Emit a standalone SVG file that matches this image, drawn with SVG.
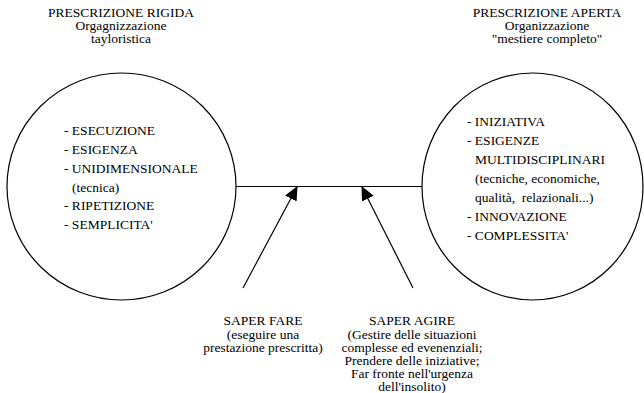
<svg xmlns="http://www.w3.org/2000/svg" width="644" height="393" viewBox="0 0 644 393">
<defs>
<style>
.t{font-family:'Liberation Serif','Times New Roman','DejaVu Serif',serif;font-size:13.5px;fill:#000}
.c{text-anchor:middle}
.shape{fill:none;stroke:#000;stroke-width:1.2}
</style>
<marker id="ah" markerWidth="14" markerHeight="13" viewBox="0 0 14 13" refX="13" refY="6.5" orient="auto" markerUnits="userSpaceOnUse">
<path d="M0,0 L14,6.5 L0,13 Z" fill="#000"/>
</marker>
</defs>
<rect width="644" height="393" fill="#fff"/>
<g id="rigida" class="t" font-family="Liberation Serif, Times New Roman, serif">
<ellipse class="shape" cx="121.5" cy="186.5" rx="114.5" ry="113.5"/>
<text class="c" x="121" y="17">PRESCRIZIONE RIGIDA</text>
<text class="c" x="121" y="30">Orgagnizzazione</text>
<text class="c" x="121" y="43">tayloristica</text>
<text x="64" y="135">- ESECUZIONE</text>
<text x="64" y="154">- ESIGENZA</text>
<text x="64" y="173">- UNIDIMENSIONALE</text>
<text x="72" y="192">(tecnica)</text>
<text x="64" y="210">- RIPETIZIONE</text>
<text x="64" y="229">- SEMPLICITA'</text>
</g>
<g id="aperta" class="t" font-family="Liberation Serif, Times New Roman, serif">
<ellipse class="shape" cx="532.5" cy="186.5" rx="110.5" ry="113.5"/>
<text class="c" x="547" y="17">PRESCRIZIONE APERTA</text>
<text class="c" x="547" y="30">Organizzazione</text>
<text class="c" x="547" y="43">"mestiere completo"</text>
<text x="467" y="126">- INIZIATIVA</text>
<text x="467" y="145">- ESIGENZE</text>
<text x="475" y="164">MULTIDISCIPLINARI</text>
<text x="475" y="183">(tecniche, economiche,</text>
<text x="475" y="202">qualità,&#160; relazionali...)</text>
<text x="467" y="221">- INNOVAZIONE</text>
<text x="467" y="240">- COMPLESSITA'</text>
</g>
<g id="saper-fare" class="t" font-family="Liberation Serif, Times New Roman, serif">
<text class="c" x="263" y="325">SAPER FARE</text>
<text class="c" x="263" y="339">(eseguire una</text>
<text class="c" x="263" y="352">prestazione prescritta)</text>
</g>
<g id="saper-agire" class="t" font-family="Liberation Serif, Times New Roman, serif">
<text class="c" x="412" y="325">SAPER AGIRE</text>
<text class="c" x="412" y="339">(Gestire delle situazioni</text>
<text class="c" x="412" y="352">complesse ed evenenziali;</text>
<text class="c" x="412" y="365">Prendere delle iniziative;</text>
<text class="c" x="412" y="378">Far fronte nell'urgenza</text>
<text class="c" x="412" y="391">dell'insolito)</text>
</g>
<g id="connectors">
<line class="shape" x1="236" y1="186.5" x2="422" y2="186.5"/>
<line class="shape" x1="243" y1="288" x2="297" y2="187" marker-end="url(#ah)"/>
<line class="shape" x1="413" y1="288" x2="362" y2="187" marker-end="url(#ah)"/>
</g>
</svg>
